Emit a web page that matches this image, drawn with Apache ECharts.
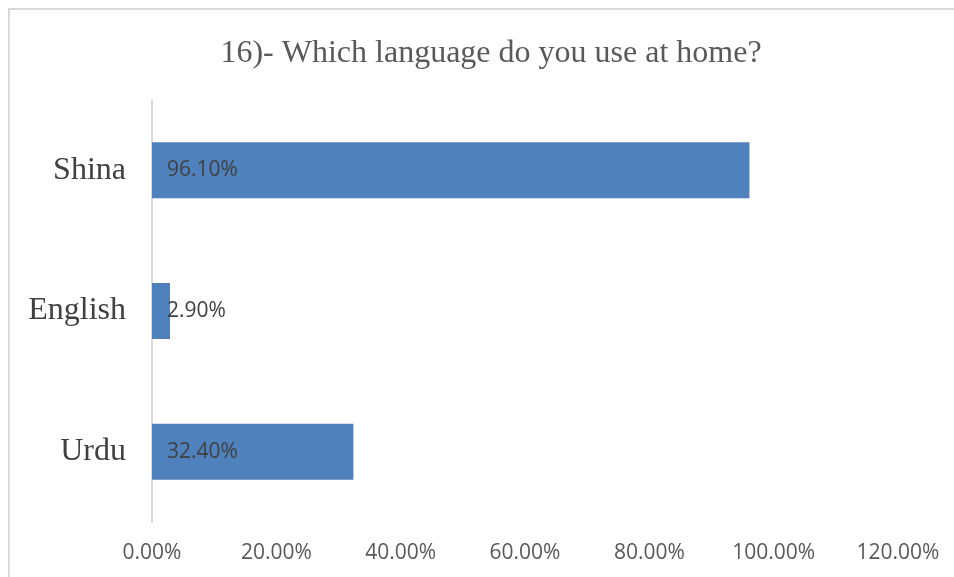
<!DOCTYPE html>
<html>
<head>
<meta charset="utf-8">
<script src="https://cdn.jsdelivr.net/npm/echarts@6/dist/echarts.min.js"></script>
<style>
  html, body { margin: 0; padding: 0; background: #ffffff; }
  #chart { width: 954px; height: 577px; }
</style>
</head>
<body>
<div id="chart"></div>
<script>
// Survey question 16: language used at home (percent of respondents)
const titleText = '16)- Which language do you use at home?';
const categories = ['Urdu', 'English', 'Shina'];
const percentages = [32.4, 2.9, 96.1];
const axisTicks = [0, 20, 40, 60, 80, 100, 120];

const chart = echarts.init(document.getElementById('chart'), null, { renderer: 'canvas' });

chart.setOption({
  animation: false,
  backgroundColor: '#ffffff',
  graphic: [
    {
      type: 'polyline',
      shape: { points: [[9, 577], [9, 9], [954, 9]] },
      style: { stroke: '#d9d9d9', lineWidth: 2, fill: null },
      silent: true
    }
  ],
  title: {
    text: titleText,
    left: 486,
    textAlign: 'center',
    top: 33,
    textStyle: {
      fontFamily: 'Liberation Serif',
      fontWeight: 'normal',
      fontSize: 32,
      color: '#595959'
    }
  },
  grid: {
    left: 152,
    right: 56,
    top: 100,
    bottom: 55,
    containLabel: false
  },
  xAxis: {
    type: 'value',
    min: axisTicks[0],
    max: axisTicks[axisTicks.length - 1],
    interval: axisTicks[1] - axisTicks[0],
    axisLine: { show: false },
    axisTick: { show: false },
    splitLine: { show: false },
    axisLabel: {
      margin: 21,
      fontFamily: 'Open Sans',
      fontSize: 21,
      color: '#595959',
      formatter: v => v.toFixed(2) + '%'
    }
  },
  yAxis: {
    type: 'category',
    data: categories,
    axisLine: { show: true, lineStyle: { color: '#d9d9d9', width: 2 } },
    axisTick: { show: false },
    axisLabel: {
      margin: 26,
      fontFamily: 'Liberation Serif',
      fontSize: 32,
      color: '#404040'
    }
  },
  series: [
    {
      type: 'bar',
      data: percentages,
      barWidth: 56,
      itemStyle: { color: '#4f81bd' },
      label: {
        show: true,
        position: 'insideLeft',
        distance: 15,
        fontFamily: 'Open Sans',
        fontSize: 21,
        color: '#404040',
        formatter: p => p.value.toFixed(2) + '%'
      }
    }
  ]
});
</script>
</body>
</html>
